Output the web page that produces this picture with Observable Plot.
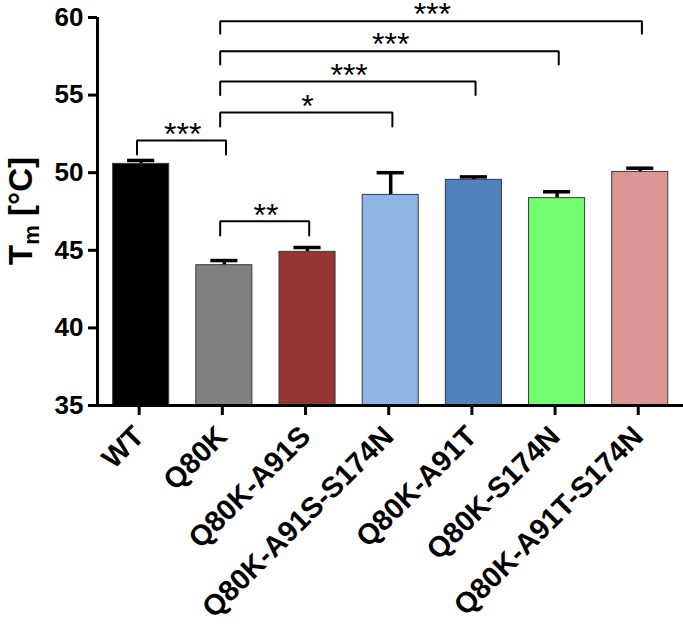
<!DOCTYPE html>
<html>
<head>
<meta charset="utf-8">
<script src="https://cdn.jsdelivr.net/npm/d3@7"></script>
<script src="https://cdn.jsdelivr.net/npm/@observablehq/plot@0.6"></script>
<style>
  body { margin: 0; background: #fff; }
  #chart svg { display: block; }
</style>
</head>
<body>
<div id="chart"></div>
<script>
// ---- data ----
const categories = ["WT", "Q80K", "Q80K-A91S", "Q80K-A91S-S174N", "Q80K-A91T", "Q80K-S174N", "Q80K-A91T-S174N"];
const meanTm   = [50.57, 44.04, 44.90, 48.57, 49.54, 48.36, 50.05];
const errorTop = [50.79, 44.34, 45.18, 50.00, 49.73, 48.77, 50.29];
const barColors = ["#000000", "#808080", "#943634", "#8eb4e3", "#4f81bd", "#72ff72", "#d99694"];
const yTicks = [35, 40, 45, 50, 55, 60];

const bracketFrom  = ["WT", "Q80K", "Q80K", "Q80K", "Q80K", "Q80K"];
const bracketTo    = ["Q80K", "Q80K-A91S", "Q80K-A91S-S174N", "Q80K-A91T", "Q80K-S174N", "Q80K-A91T-S174N"];
const bracketTop   = [52.07, 46.87, 53.88, 55.88, 57.83, 59.76];
const bracketLeg   = [51.17, 45.95, 52.98, 55.00, 56.97, 58.95];
const bracketLabel = ["***", "**", "*", "***", "***", "***"];

// ---- derived tables ----
const idx = c => categories.indexOf(c);
const bars = categories.map((c, i) => ({i, c, mean: meanTm[i], err: errorTop[i], color: barColors[i]}));
const bracketPts = [];
const bracketTxt = [];
bracketFrom.forEach((f, k) => {
  const a = idx(f) - 0.05, b = idx(bracketTo[k]) + 0.02;
  bracketPts.push({k, x: a, y: bracketLeg[k]}, {k, x: a, y: bracketTop[k]},
                  {k, x: b, y: bracketTop[k]}, {k, x: b, y: bracketLeg[k]});
  bracketTxt.push({x: (idx(f) + idx(bracketTo[k])) / 2, y: bracketTop[k], label: bracketLabel[k]});
});

// ---- styling constants ----
const barHalf = 0.337;
const capHalf = 0.163;
const xDomain = [-0.525, 6.52];
const yDomain = [35, 60];
const font = "'Liberation Sans', Arial, Helvetica, sans-serif";

const plot = Plot.plot({
  width: 683,
  height: 630,
  marginLeft: 97,
  marginRight: 0,
  marginTop: 17,
  marginBottom: 225,
  style: {fontFamily: font, background: "#fff", overflow: "visible"},
  x: {type: "linear", domain: xDomain, axis: null},
  y: {domain: yDomain, axis: null},
  marks: [
    // error bars (upper)
    Plot.ruleX(bars, {x: "i", y1: "mean", y2: "err", stroke: "#000", strokeWidth: 3.5}),
    Plot.ruleY(bars, {x1: d => d.i - capHalf, x2: d => d.i + capHalf, y: "err", stroke: "#000", strokeWidth: 3.5}),
    // bars
    Plot.rectY(bars, {x1: d => d.i - barHalf, x2: d => d.i + barHalf, y1: yDomain[0], y2: "mean",
                      fill: "color", stroke: "#3a3a3a", strokeWidth: 1}),
    // axes
    Plot.axisY(yTicks, {tickSize: 9, tickPadding: 5, strokeWidth: 3, fontSize: 26, fontWeight: "bold", label: null}),
    Plot.axisX(bars.map(d => d.i), {tickFormat: i => categories[i], tickRotate: -45, tickSize: 10, tickPadding: 16,
                      dx: -2, strokeWidth: 3, fontSize: 29, fontWeight: "bold", label: null}),
    Plot.ruleX([xDomain[0]], {y1: yDomain[0], y2: yDomain[1], stroke: "#000", strokeWidth: 3}),
    Plot.ruleY([yDomain[0]], {x1: xDomain[0], x2: xDomain[1], stroke: "#000", strokeWidth: 3}),
    // significance brackets
    Plot.line(bracketPts, {x: "x", y: "y", z: "k", stroke: "#000", strokeWidth: 2, strokeLinejoin: "miter", curve: "linear"}),
    Plot.text(bracketTxt, {x: "x", y: "y", text: "label", dy: -6, fontSize: 32, fill: "#000", lineAnchor: "middle"})
  ]
});

document.getElementById("chart").appendChild(plot);

// y-axis title with subscript
const svg = d3.select(plot.tagName.toLowerCase() === "svg" ? plot : plot.querySelector("svg"));
const title = svg.append("text")
  .attr("transform", "translate(32,211) rotate(-90)")
  .attr("text-anchor", "middle")
  .attr("font-family", font)
  .attr("font-weight", "bold")
  .attr("font-size", 33)
  .attr("fill", "#000");
title.append("tspan").text("T");
title.append("tspan").attr("font-size", 22).attr("dy", 7).text("m");
title.append("tspan").attr("dy", -7).text(" [°C]");
</script>
</body>
</html>
